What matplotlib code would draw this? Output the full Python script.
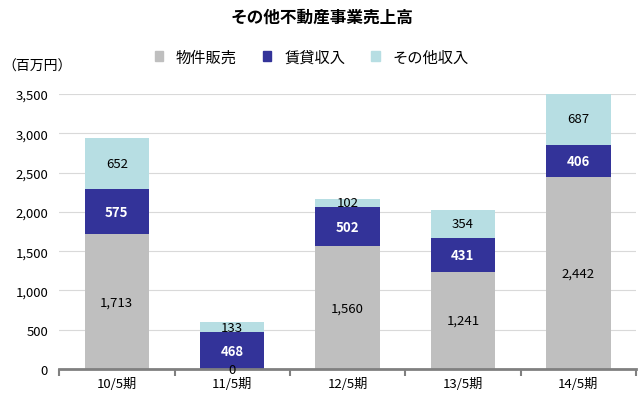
import matplotlib
matplotlib.use('Agg')
import matplotlib.pyplot as plt
import numpy as np

plt.rcParams['font.family'] = ['Noto Sans CJK JP', 'DejaVu Sans']

# data
periods = ['10/5期', '11/5期', '12/5期', '13/5期', '14/5期']
sales = [1713, 0, 1560, 1241, 2442]      # 物件販売
rent = [575, 468, 502, 431, 406]         # 賃貸収入
other = [652, 133, 102, 354, 687]        # その他収入
series_names = ['物件販売', '賃貸収入', 'その他収入']
yticks = [0, 500, 1000, 1500, 2000, 2500, 3000, 3500]

c_sales = '#BFBFBF'
c_rent = '#333399'
c_other = '#B7DEE3'

fig = plt.figure(figsize=(6.43, 4.02), dpi=100)
ax = fig.add_axes([0.092, 0.0796, 0.897, 0.684])

x = np.arange(len(periods))
w = 0.56
sales = np.array(sales)
rent = np.array(rent)
other = np.array(other)

ax.bar(x, sales, w, color=c_sales, zorder=2)
ax.bar(x, rent, w, bottom=sales, color=c_rent, zorder=2)
ax.bar(x, other, w, bottom=sales + rent, color=c_other, zorder=2)

for i in range(len(periods)):
    ax.text(x[i], sales[i] / 2, f'{sales[i]:,}', ha='center', va='center', fontsize=9.5, color='black', zorder=3)
    ax.text(x[i], sales[i] + rent[i] / 2, f'{rent[i]:,}', ha='center', va='center', fontsize=9.5,
            color='white', fontweight='bold', zorder=3)
    ax.text(x[i], sales[i] + rent[i] + other[i] / 2, f'{other[i]:,}', ha='center', va='center',
            fontsize=9.5, color='black', zorder=3)

ax.set_xlim(-0.5, len(periods) - 0.5)
ax.set_ylim(0, 3500)
ax.set_yticks(yticks)
ax.set_yticklabels([f'{v:,}' for v in yticks], fontsize=9.5)
ax.yaxis.grid(True, color='#D9D9D9', linewidth=0.8, zorder=0)
ax.set_axisbelow(True)
ax.tick_params(axis='y', length=0, pad=8)

ax.set_xticks(x)
ax.set_xticklabels(periods, fontsize=9.5)
ax.set_xticks(np.arange(-0.5, len(periods)), minor=True)
ax.tick_params(axis='x', which='major', length=0, pad=6)
ax.tick_params(axis='x', which='minor', length=5, width=1.5, color='#808080', direction='out')

for s in ['top', 'right', 'left']:
    ax.spines[s].set_visible(False)
ax.spines['bottom'].set_color('#808080')
ax.spines['bottom'].set_linewidth(2)

fig.text(0.5, 0.955, 'その他不動産事業売上高', ha='center', va='center', fontsize=12, fontweight='bold')
fig.text(0.003, 0.833, '（百万円）', ha='left', va='center', fontsize=10)

handles = [plt.Rectangle((0, 0), 1, 1, color=c) for c in [c_sales, c_rent, c_other]]
fig.legend(handles, series_names, loc='center', bbox_to_anchor=(0.485, 0.856), ncol=3, frameon=False,
           fontsize=11, handlelength=0.55, handleheight=0.55, columnspacing=1.7, handletextpad=0.85)

fig.savefig('out.png', dpi=100)
